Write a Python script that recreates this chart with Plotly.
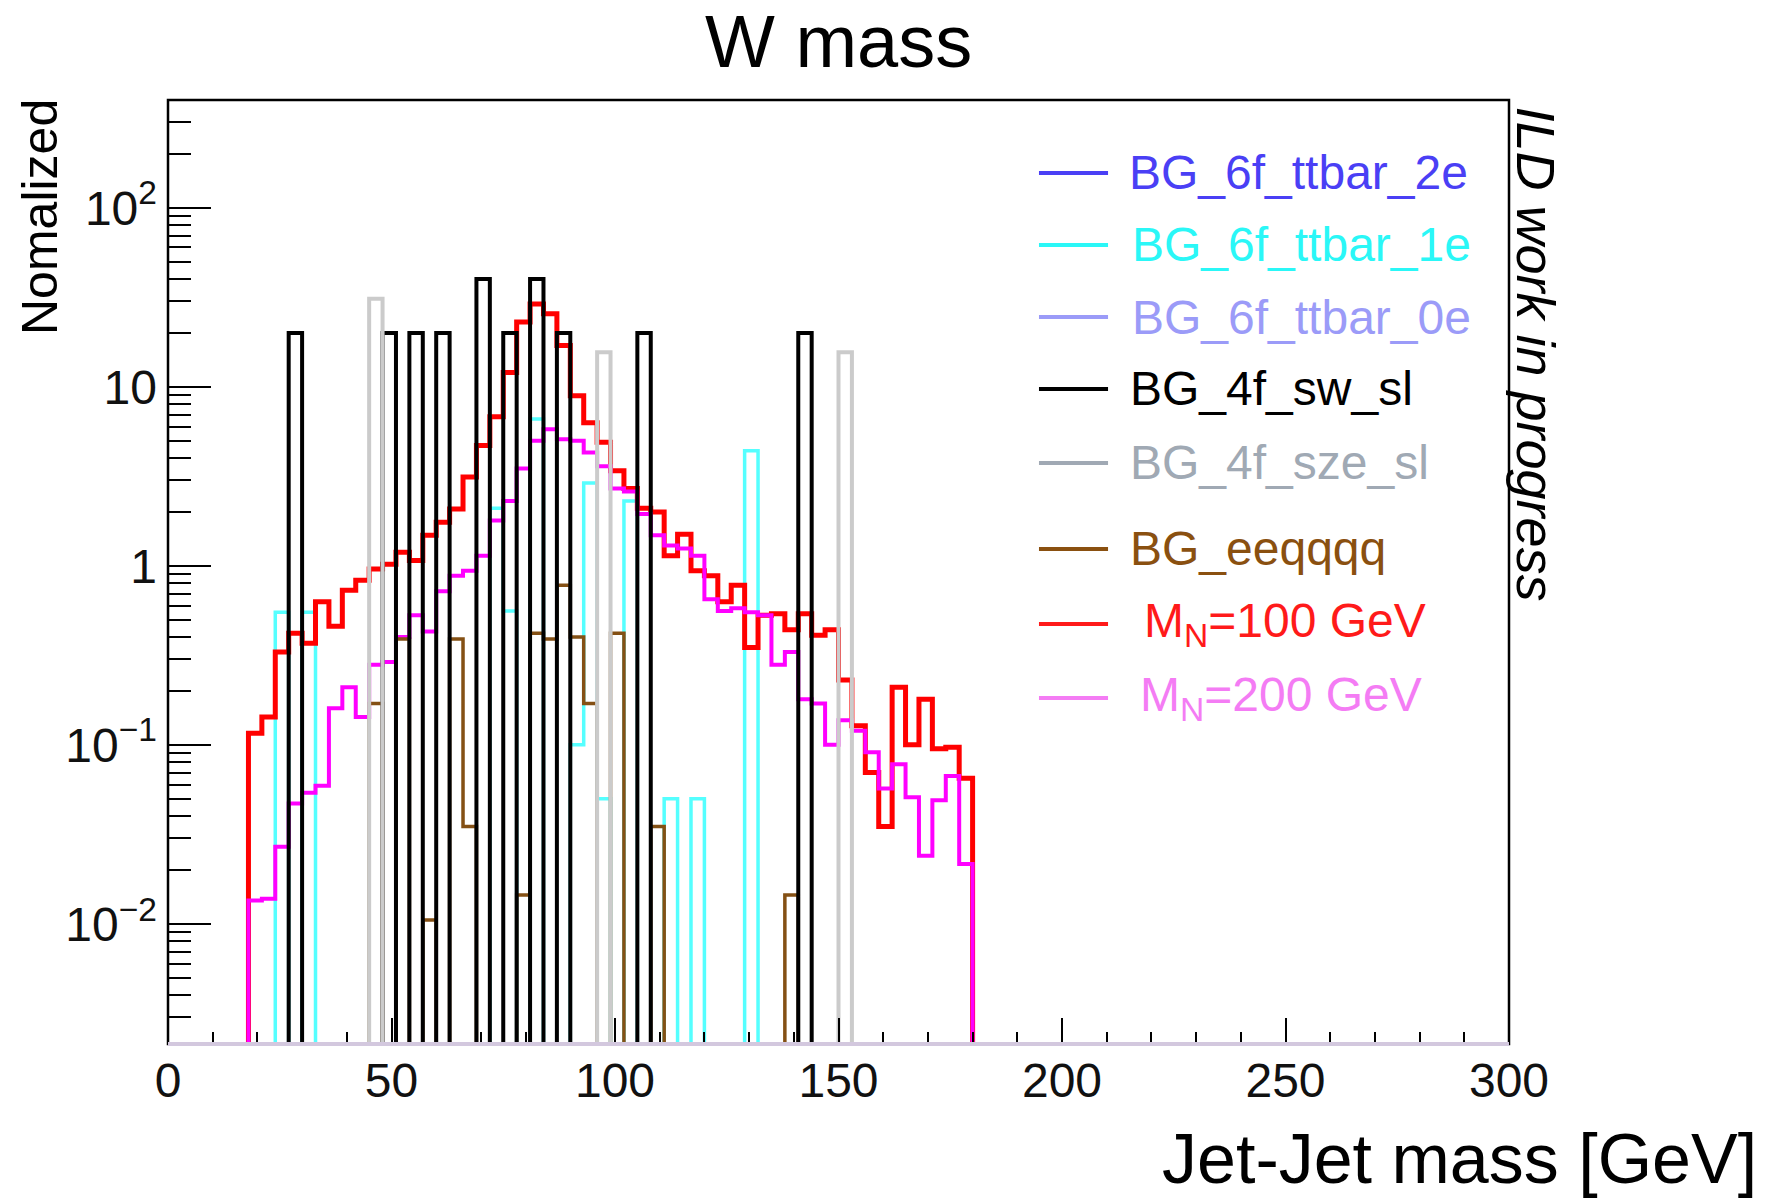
import numpy as np
import plotly.graph_objects as go

# ---------------- data ----------------
BIN_WIDTH = 3.0          # GeV
N_BINS = 100             # 0 - 300 GeV

# signal histograms: lower edge of first filled bin, then bin contents
mn100_start = 18
mn100_vals = [0.116, 0.143, 0.33, 0.42, 0.37, 0.63, 0.46, 0.73, 0.83, 0.96,
              1.02, 1.19, 1.07, 1.48, 1.75, 2.08, 3.13, 4.7, 6.8, 12.0,
              23.0, 29.0, 25.6, 17.0, 8.9, 6.3, 4.9, 3.4, 2.7, 2.1,
              2.0, 1.14, 1.5, 0.94, 0.88, 0.63, 0.78, 0.35, 0.53, 0.54,
              0.44, 0.54, 0.41, 0.44, 0.23, 0.128, 0.070, 0.035, 0.21, 0.10,
              0.18, 0.095, 0.097, 0.065]
mn200_start = 18
mn200_vals = [0.0135, 0.0138, 0.027, 0.047, 0.054, 0.059, 0.16, 0.21, 0.143, 0.28,
              0.29, 0.40, 0.53, 0.43, 0.72, 0.88, 0.94, 1.14, 1.79, 2.3,
              3.5, 5.0, 5.8, 5.1, 5.0, 4.3, 3.6, 2.7, 2.6, 1.95,
              1.48, 1.30, 1.25, 1.14, 0.65, 0.56, 0.58, 0.55, 0.53, 0.28,
              0.33, 0.18, 0.17, 0.10, 0.137, 0.12, 0.091, 0.057, 0.078, 0.051,
              0.024, 0.049, 0.067, 0.0216]

# background histograms: lower bin edges (GeV) of filled bins and contents
ttbar2e_bins = []
ttbar2e_vals = []
ttbar1e_bins = [24, 30, 72, 75, 81, 90, 93, 96, 102, 111, 117, 129]
ttbar1e_vals = [0.55, 0.55, 2.1, 0.56, 6.6, 0.10, 2.9, 0.05, 2.3, 0.05, 0.05, 4.4]
ttbar0e_bins = []
ttbar0e_vals = []
sw_sl_bins = [27, 48, 54, 60, 69, 75, 81, 87, 105, 141]
sw_sl_vals = [20, 20, 20, 20, 40, 20, 40, 20, 20, 20]
sze_sl_bins = [45, 96, 150]
sze_sl_vals = [31, 15.6, 15.6]
eeqqqq_bins = [45, 51, 57, 63, 66, 78, 81, 84, 87, 90, 93, 99, 108, 138]
eeqqqq_vals = [0.17, 0.39, 0.0105, 0.39, 0.035, 0.0145, 0.42, 0.39, 0.78, 0.40,
               0.17, 0.42, 0.035, 0.0145]

x_tick_vals = [0, 50, 100, 150, 200, 250, 300]
x_tick_text = ["0", "50", "100", "150", "200", "250", "300"]
y_tick_vals = [0.01, 0.1, 1, 10, 100]
y_tick_text = ["10<sup>\u22122</sup>", "10<sup>\u22121</sup>", "1", "10", "10<sup>2</sup>"]

legend_names = ["BG_6f_ttbar_2e", "BG_6f_ttbar_1e", "BG_6f_ttbar_0e", "BG_4f_sw_sl",
                "BG_4f_sze_sl", "BG_eeqqqq", "M<sub>N</sub>=100 GeV", "M<sub>N</sub>=200 GeV"]

# ---------------- helpers ----------------
edges = np.arange(N_BINS + 1) * BIN_WIDTH
FLOOR = 1e-4


def from_sparse(bins, vals):
    h = np.zeros(N_BINS)
    for b, v in zip(bins, vals):
        h[int(round(b / BIN_WIDTH))] = v
    return h


def from_dense(start, vals):
    h = np.zeros(N_BINS)
    i0 = int(round(start / BIN_WIDTH))
    h[i0:i0 + len(vals)] = vals
    return h


def step_xy(h):
    y = np.where(h > 0, h, FLOOR)
    xs = np.concatenate([[edges[0]], edges[:-1], [edges[-1]], [edges[-1]]])
    ys = np.concatenate([[FLOOR], y, [y[-1]], [FLOOR]])
    return xs, ys


hists = {
    "BG_6f_ttbar_2e": from_sparse(ttbar2e_bins, ttbar2e_vals),
    "BG_6f_ttbar_1e": from_sparse(ttbar1e_bins, ttbar1e_vals),
    "BG_6f_ttbar_0e": from_sparse(ttbar0e_bins, ttbar0e_vals),
    "BG_4f_sw_sl": from_sparse(sw_sl_bins, sw_sl_vals),
    "BG_4f_sze_sl": from_sparse(sze_sl_bins, sze_sl_vals),
    "BG_eeqqqq": from_sparse(eeqqqq_bins, eeqqqq_vals),
    "MN100": from_dense(mn100_start, mn100_vals),
    "MN200": from_dense(mn200_start, mn200_vals),
}

plot_style = {
    "BG_6f_ttbar_2e": ("#4a3ff5", 3.5),
    "BG_6f_ttbar_1e": ("#55ffff", 3.5),
    "BG_6f_ttbar_0e": ("#9b9bf8", 3.5),
    "BG_4f_sw_sl": ("#000000", 4),
    "BG_4f_sze_sl": ("#cbcbcb", 4),
    "BG_eeqqqq": ("#845014", 3.5),
    "MN100": ("#ff0000", 5),
    "MN200": ("#ff00ff", 4),
}
draw_order = ["BG_6f_ttbar_2e", "BG_6f_ttbar_1e", "BG_6f_ttbar_0e", "MN100", "MN200",
              "BG_eeqqqq", "BG_4f_sw_sl", "BG_4f_sze_sl"]

fig = go.Figure()
for key in draw_order:
    xs, ys = step_xy(hists[key])
    col, w = plot_style[key]
    fig.add_trace(go.Scatter(x=xs, y=ys, mode="lines", line=dict(color=col, width=w, shape="hv"),
                             showlegend=False, hoverinfo="skip"))

FONT = "Liberation Sans, Arial, Helvetica, sans-serif"

minor_y = [m * 10.0 ** e for e in range(-3, 3) for m in range(2, 10)]

fig.update_layout(
    width=1776, height=1199,
    margin=dict(l=168, r=267, t=100, b=155),
    paper_bgcolor="white", plot_bgcolor="white",
    font=dict(family=FONT, color="black"),
    xaxis=dict(range=[0, 300], tickmode="array", tickvals=x_tick_vals, ticktext=x_tick_text,
               ticks="inside", ticklen=26, tickwidth=2, tickcolor="black",
               minor=dict(dtick=10, tick0=0, ticks="inside", ticklen=12, tickwidth=2, tickcolor="black"),
               showgrid=False, zeroline=False, showline=False,
               tickfont=dict(size=48, family=FONT, color="#111111"), ticklabelstandoff=4),
    yaxis=dict(type="log", range=[-2.671, 2.602], tickmode="array", tickvals=y_tick_vals,
               ticktext=y_tick_text, ticks="inside", ticklen=43, tickwidth=2, tickcolor="black",
               minor=dict(tickmode="array", tickvals=minor_y, ticks="inside", ticklen=23,
                          tickwidth=2, tickcolor="black"),
               showgrid=False, zeroline=False, showline=False,
               tickfont=dict(size=48, family=FONT, color="#111111"), ticklabelstandoff=10),
)

# frame (left, top, right black; bottom covered by the empty histograms)
fig.add_shape(type="rect", xref="paper", yref="paper", x0=0, x1=1, y0=0, y1=1,
              line=dict(color="black", width=2.5), layer="above")
fig.add_shape(type="line", xref="paper", yref="paper", x0=0, x1=1, y0=0, y1=0,
              line=dict(color="#d3c8de", width=4), layer="above")

# titles
fig.add_annotation(text="W mass", xref="paper", yref="paper", x=0.5, y=1.062,
                   xanchor="center", yanchor="middle", showarrow=False,
                   font=dict(size=74, family=FONT, color="black"))
fig.add_annotation(text="Jet-Jet mass [GeV]", xref="paper", yref="paper", x=1.1865, y=-0.1215,
                   xanchor="right", yanchor="middle", showarrow=False,
                   font=dict(size=70, family=FONT, color="black"))
fig.add_annotation(text="Nomalized", xref="paper", yref="paper", x=-0.0955, y=0.876,
                   xanchor="center", yanchor="middle", showarrow=False, textangle=-90,
                   font=dict(size=50, family=FONT, color="black"))
fig.add_annotation(text="<i>ILD work in progress</i>", xref="paper", yref="paper", x=1.0205, y=0.731,
                   xanchor="center", yanchor="middle", showarrow=False, textangle=90,
                   font=dict(size=54, family=FONT, color="black"))

# legend (custom, to reproduce the uneven spacing)
legend_colors = ["#4a3ff5", "#2af7f7", "#9b9bf8", "#000000", "#a0a9b4", "#8a5010", "#ff1a1a", "#f47cf4"]
legend_y = [0.9227, 0.8464, 0.7701, 0.6939, 0.6155, 0.5244, 0.4449, 0.3665]
legend_tx = [0.7151, 0.7174, 0.7174, 0.7159, 0.7159, 0.7159, 0.7263, 0.7233]
for name, col, yy, tx in zip(legend_names, legend_colors, legend_y, legend_tx):
    fig.add_shape(type="line", xref="paper", yref="paper", x0=0.6495, x1=0.701, y0=yy, y1=yy,
                  line=dict(color=col, width=4))
    fig.add_annotation(text=name, xref="paper", yref="paper", x=tx, y=yy,
                       xanchor="left", yanchor="middle", showarrow=False,
                       font=dict(size=48, family=FONT, color=col))

fig.write_html("out.html")
